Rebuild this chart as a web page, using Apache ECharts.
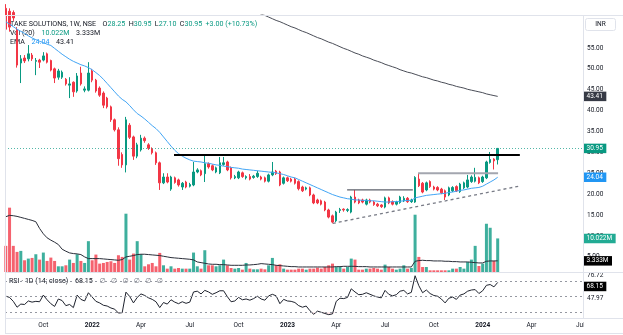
<!DOCTYPE html>
<html>
<head>
<meta charset="utf-8">
<script src="https://cdn.jsdelivr.net/npm/echarts@6/dist/echarts.min.js"></script>
<style>
  html, body { margin: 0; padding: 0; background: #ffffff; }
  #chart { width: 623px; height: 335px; }
</style>
</head>
<body>
<div id="chart"></div>
<script>
// TAKE SOLUTIONS (NSE), weekly bars from the week of 26 Jul 2021 to the week of 29 Jan 2024.
// x values are week numbers counted from the first bar.
const firstWeek = '2021-07-26';

const opens = [
  64.5, 63.8, 63.5, 59.3, 51.4, 52.6, 52.4, 53.3, 51.8, 52.1,
  52.1, 53.6, 52.0, 50.0, 48.0, 48.0, 47.5, 46.1, 46.8, 44.7,
  49.0, 44.9, 44.9, 49.5, 47.3, 45.4, 44.2, 43.0, 40.9, 37.8,
  35.4, 29.5, 27.0, 36.5, 33.7, 29.1, 30.6, 33.4, 31.8, 30.8,
  29.9, 27.5, 22.7, 24.1, 21.2, 23.9, 23.4, 21.7, 22.9, 21.9,
  22.2, 25.3, 25.6, 24.9, 27.3, 26.8, 25.3, 25.1, 27.1, 27.7,
  26.3, 23.9, 23.9, 25.1, 23.9, 24.2, 24.0, 24.2, 24.1, 23.9,
  23.1, 24.6, 25.5, 25.3, 22.6, 23.9, 23.6, 23.6, 23.0, 21.7,
  21.2, 21.5, 19.8, 18.6, 18.4, 18.1, 16.2, 14.8, 13.6, 16.1,
  16.4, 16.1, 15.7, 19.3, 18.6, 18.6, 17.6, 18.6, 18.1, 17.6,
  17.4, 16.9, 19.1, 18.2, 17.6, 18.0, 18.4, 19.0, 18.2, 18.1,
  23.6, 22.6, 21.0, 23.0, 21.7, 21.6, 21.2, 20.8, 19.8, 20.8,
  21.8, 20.6, 21.5, 21.7, 23.0, 23.1, 23.9, 23.0, 23.9, 27.6,
  28.4, 28.25
];
const closes = [
  59.5, 60.0, 62.2, 50.9, 52.4, 51.9, 53.6, 52.4, 52.0, 51.6,
  53.1, 51.6, 49.7, 47.8, 49.5, 49.2, 46.4, 46.4, 44.5, 48.3,
  46.4, 45.2, 49.0, 47.3, 44.7, 43.7, 41.3, 40.9, 37.8, 35.4,
  28.5, 27.0, 37.8, 33.6, 29.1, 31.8, 33.4, 32.8, 31.0, 29.9,
  27.5, 22.7, 24.1, 22.9, 24.1, 22.8, 22.2, 22.6, 21.7, 22.3,
  25.3, 25.8, 24.6, 27.3, 26.5, 25.8, 26.3, 27.5, 27.5, 25.8,
  23.9, 24.2, 25.3, 24.2, 24.2, 23.6, 24.3, 25.0, 23.6, 23.1,
  24.6, 25.3, 24.9, 22.2, 23.9, 23.2, 23.1, 22.6, 21.3, 20.8,
  21.5, 19.8, 17.9, 17.9, 17.6, 16.2, 14.5, 13.3, 15.7, 16.3,
  16.2, 16.3, 19.3, 18.1, 17.9, 18.1, 18.6, 18.1, 17.5, 17.2,
  17.0, 19.1, 17.9, 17.6, 18.1, 19.3, 19.0, 18.2, 18.6, 24.0,
  22.0, 20.5, 22.7, 21.8, 21.2, 21.0, 20.3, 19.3, 21.5, 21.6,
  20.8, 22.4, 22.7, 23.4, 24.1, 24.0, 22.7, 24.1, 27.7, 28.3,
  27.95, 30.95
];
const highs = [
  65.5, 64.5, 64.0, 60.0, 53.3, 53.3, 55.7, 53.8, 52.6, 52.4,
  54.0, 53.9, 52.2, 50.3, 50.0, 49.6, 47.8, 48.0, 47.0, 49.0,
  50.5, 45.8, 51.6, 50.0, 47.6, 45.8, 44.6, 43.3, 41.2, 38.1,
  36.0, 30.0, 38.5, 37.0, 34.0, 32.3, 34.2, 33.8, 32.2, 31.2,
  30.2, 27.8, 25.0, 25.0, 24.4, 24.2, 23.7, 22.9, 23.2, 22.7,
  27.7, 26.2, 25.9, 29.4, 27.6, 27.1, 26.6, 28.9, 28.9, 28.0,
  26.6, 24.6, 25.6, 25.4, 24.5, 24.8, 24.6, 25.6, 24.4, 24.2,
  24.9, 27.7, 25.8, 25.6, 24.2, 24.2, 23.9, 23.9, 23.3, 22.0,
  21.8, 21.8, 20.1, 18.9, 18.7, 18.4, 16.5, 15.1, 16.0, 16.7,
  16.6, 16.6, 19.6, 21.0, 18.9, 18.9, 18.9, 18.9, 18.4, 17.9,
  17.6, 19.4, 19.4, 18.5, 18.4, 19.6, 19.5, 19.3, 18.9, 24.3,
  25.0, 22.9, 23.0, 23.3, 22.0, 21.9, 21.5, 21.1, 21.8, 21.9,
  22.1, 22.7, 23.0, 24.6, 24.5, 26.3, 24.2, 24.4, 28.0, 30.1,
  28.6, 30.95
];
const lows = [
  58.6, 58.9, 61.5, 50.3, 46.6, 51.4, 51.8, 51.9, 48.5, 50.2,
  51.8, 51.3, 49.4, 46.6, 47.4, 47.6, 46.0, 43.0, 43.3, 44.3,
  46.0, 44.4, 44.6, 46.8, 44.3, 43.3, 40.6, 40.5, 37.3, 35.0,
  26.8, 26.3, 25.2, 33.2, 28.2, 28.6, 30.2, 32.3, 30.6, 29.5,
  27.0, 21.0, 22.4, 22.6, 20.8, 22.5, 21.8, 21.0, 21.4, 21.6,
  21.9, 25.0, 24.3, 22.9, 26.1, 25.5, 25.0, 24.8, 26.8, 25.5,
  23.5, 23.6, 23.6, 23.9, 23.5, 23.3, 23.7, 23.9, 23.3, 22.8,
  22.8, 24.3, 24.6, 21.9, 22.3, 22.9, 22.8, 22.3, 20.9, 20.5,
  20.9, 19.5, 17.6, 17.6, 17.3, 15.9, 14.2, 13.0, 13.3, 15.5,
  15.8, 15.7, 15.4, 17.8, 17.6, 17.8, 17.3, 17.8, 17.2, 16.9,
  16.7, 16.6, 17.6, 17.3, 17.3, 17.7, 18.1, 17.9, 17.9, 17.9,
  21.7, 20.2, 20.7, 21.5, 20.9, 20.7, 20.0, 18.6, 19.5, 20.5,
  20.5, 20.3, 21.2, 21.4, 22.7, 22.8, 22.4, 22.7, 23.6, 27.3,
  25.9, 27.10
];
// weekly volume, millions of shares
const volumes = [
  7.8, 19.2, 7.8, 6.0, 6.3, 3.5, 4.0, 4.2, 5.3, 3.7,
  5.8, 3.3, 4.3, 3.3, 1.7, 1.7, 2.0, 3.7, 2.7, 5.3,
  3.3, 2.7, 9.2, 3.5, 5.2, 2.5, 2.7, 3.0, 3.2, 2.7,
  5.0, 4.5, 17.4, 3.7, 5.5, 9.2, 5.3, 1.7, 2.3, 2.7,
  1.7, 5.7, 2.0, 1.0, 1.7, 1.0, 1.2, 1.0, 1.0, 1.0,
  5.8, 1.7, 1.0, 6.5, 2.0, 2.0, 1.7, 2.0, 3.7, 2.0,
  1.2, 1.0, 1.2, 0.7, 2.7, 1.0, 0.8, 0.8, 1.0, 0.8,
  2.0, 4.2, 2.0, 2.3, 1.0, 0.7, 0.7, 0.7, 1.0, 1.0,
  0.7, 1.0, 1.0, 1.3, 1.0, 1.5, 2.0, 2.5, 1.5, 1.5,
  1.0, 1.5, 4.0, 3.7, 0.7, 0.7, 1.0, 1.0, 1.2, 1.0,
  0.7, 2.2, 1.5, 1.0, 0.7, 1.0, 2.0, 1.0, 1.2, 17.1,
  4.5, 1.5, 1.5, 0.5, 0.5, 0.5, 0.5, 0.5, 0.5, 1.0,
  1.0, 1.5, 1.0, 3.0, 3.7, 7.8, 1.8, 2.5, 14.4, 13.2,
  3.3, 10.022
];
// 20-week average of volume, millions
const volumeMa = [
  16.5, 16.9, 16.8, 16.6, 16.3, 16.0, 15.7, 15.4, 15.0, 13.0,
  11.4, 10.2, 9.5, 8.9, 8.2, 6.8, 6.2, 5.7, 5.5, 5.4,
  5.2, 4.5, 4.0, 4.0, 4.0, 4.0, 3.9, 3.8, 3.7, 3.6,
  3.5, 3.7, 4.5, 4.7, 4.9, 5.2, 5.3, 5.3, 5.2, 5.1,
  5.0, 4.9, 4.7, 4.5, 4.3, 4.2, 4.1, 4.0, 3.9, 3.8,
  3.6, 3.0, 2.8, 2.6, 2.4, 2.3, 2.3, 2.2, 2.2, 2.1,
  2.0, 2.0, 2.0, 2.0, 2.1, 2.1, 2.2, 2.3, 2.5, 2.4,
  2.3, 2.2, 2.0, 1.9, 1.8, 1.7, 1.6, 1.6, 1.5, 1.5,
  1.5, 1.5, 1.5, 1.5, 1.5, 1.5, 1.5, 1.5, 1.6, 1.6,
  1.7, 1.7, 1.7, 1.7, 1.6, 1.6, 1.6, 1.5, 1.5, 1.5,
  1.5, 1.5, 1.5, 1.5, 1.5, 1.5, 1.5, 1.5, 1.5, 3.2,
  3.4, 3.5, 3.4, 3.4, 3.3, 3.3, 3.3, 3.2, 3.2, 3.1,
  3.1, 3.0, 3.0, 3.0, 2.9, 2.8, 2.7, 2.7, 3.2, 3.3,
  3.3, 3.333
];
// EMA 20 of close
const emaShort = [
  61.3, 60.7, 60.1, 59.5, 59.0, 58.5, 57.9, 57.4, 57.0, 56.6,
  56.3, 55.9, 55.6, 54.9, 54.2, 53.5, 52.9, 52.3, 51.8, 51.4,
  51.0, 50.7, 50.3, 49.8, 49.1, 48.4, 47.5, 46.5, 45.5, 44.5,
  43.5, 42.7, 42.1, 41.2, 40.2, 39.3, 38.7, 38.0, 37.2, 36.4,
  35.7, 34.8, 33.7, 32.6, 31.5, 30.5, 29.7, 29.1, 28.6, 28.2,
  27.9, 27.8, 27.7, 27.5, 27.4, 27.2, 27.0, 26.9, 26.7, 26.6,
  26.4, 26.3, 26.2, 26.0, 25.9, 25.8, 25.7, 25.6, 25.5, 25.4,
  25.3, 25.2, 25.1, 24.9, 24.7, 24.4, 24.1, 23.9, 23.5, 23.1,
  22.7, 22.3, 21.9, 21.5, 21.1, 20.7, 20.3, 19.9, 19.6, 19.3,
  19.1, 18.9, 18.8, 18.6, 18.6, 18.5, 18.5, 18.4, 18.4, 18.3,
  18.2, 18.1, 18.1, 18.2, 18.2, 18.3, 18.4, 18.5, 18.5, 19.1,
  19.3, 19.5, 19.7, 19.8, 19.9, 20.0, 20.1, 20.2, 20.4, 20.5,
  20.7, 20.9, 21.0, 21.2, 21.4, 21.5, 21.6, 21.9, 22.4, 22.9,
  23.4, 24.04
];
// long EMA, from week 66 on (earlier values sit above the visible range)
const emaLongFrom = 66;
const emaLong = [
  63.9, 63.5, 63.1, 62.8, 62.4, 62.0, 61.6, 61.3, 60.9, 60.5,
  60.1, 59.8, 59.4, 59.0, 58.7, 58.3, 57.9, 57.5, 57.2, 56.8,
  56.4, 56.1, 55.7, 55.3, 54.9, 54.6, 54.2, 53.8, 53.5, 53.1,
  52.8, 52.5, 52.1, 51.8, 51.5, 51.1, 50.8, 50.5, 50.2, 49.8,
  49.5, 49.2, 49.0, 48.7, 48.4, 48.1, 47.9, 47.6, 47.3, 47.1,
  46.8, 46.6, 46.3, 46.1, 45.8, 45.6, 45.4, 45.1, 44.9, 44.7,
  44.5, 44.3, 44.0, 43.8, 43.6, 43.41
];
// RSI 14
const rsi = [
  50.6, 49.0, 44.0, 36.5, 40.5, 40.0, 44.5, 43.0, 44.0, 43.5,
  52.0, 46.0, 41.0, 37.5, 47.0, 45.0, 38.5, 40.0, 36.0, 52.0,
  46.5, 44.5, 55.0, 49.5, 44.0, 42.0, 39.0, 38.0, 35.5, 34.0,
  29.0, 29.5, 55.8, 50.2, 42.0, 49.0, 53.5, 51.5, 48.5, 46.5,
  43.5, 36.0, 42.5, 40.5, 46.0, 43.0, 41.0, 43.5, 41.5, 43.0,
  56.0, 57.0, 53.5, 58.0, 56.0, 53.0, 55.0, 57.5, 57.5, 50.0,
  43.5, 44.5, 49.0, 46.0, 47.0, 45.5, 47.5, 50.5, 47.0, 45.5,
  51.0, 53.0, 51.0, 41.0, 46.5, 44.5, 44.0, 42.5, 38.5, 36.5,
  38.0, 32.0, 27.5, 31.5, 30.0, 28.5, 27.0, 28.0, 44.0, 48.0,
  47.5, 49.0, 60.0, 56.0, 52.5, 53.0, 55.0, 53.0, 51.0, 49.5,
  48.5, 58.0, 53.0, 51.0, 52.5, 57.0, 58.0, 53.5, 55.5, 76.72,
  64.0, 55.0, 58.5, 54.0, 51.5, 50.5, 47.0, 42.0, 48.0, 49.5,
  46.5, 52.0, 53.5, 57.0, 58.5, 59.0, 54.0, 57.5, 64.5, 65.5,
  62.5, 68.15
];

// drawn levels: [week, price] end points
const resistanceLine = [[44.8, 29.4], [136.9, 29.4]];
const rangeTopLine = [[90.9, 21.0], [108.4, 21.0]];
const baseTopLine = [[109.8, 25.0], [131.1, 25.0]];
const risingSupport = [[87.1, 13.0], [136.9, 21.95]];

// time axis: first bar of each quarter
const tickWeeks = [10, 23, 36, 49, 62, 75, 88, 101, 114, 127, 140, 153];
const tickLabels = ['Oct', '2022', 'Apr', 'Jul', 'Oct', '2023', 'Apr', 'Jul', 'Oct', '2024', 'Apr', 'Jul'];
const priceTicks = [5, 10, 15, 20, 25, 30, 35, 40, 45, 50, 55];
const rsiTicks = [76.72, 47.97];
const rsiLevels = [70, 50, 30];

const lastClose = closes[closes.length - 1];
const lastEmaShort = emaShort[emaShort.length - 1];
const lastEmaLong = emaLong[emaLong.length - 1];
const lastVolume = volumes[volumes.length - 1];
const lastVolumeMa = volumeMa[volumeMa.length - 1];
const lastRsi = rsi[rsi.length - 1];

// ---- layout / style ----
const FONT = 'Roboto, "Noto Sans", "DejaVu Sans", sans-serif';
const FS = 6.5;
const LEGEND_FS = 7.1;
const TEXT = '#131722';
const UP = '#089981';
const DOWN = '#f23645';
const VOL_UP = 'rgba(8,153,129,0.78)';
const VOL_DOWN = 'rgba(242,54,69,0.78)';
const FRAME = '#e0e3eb';
const HIDDEN = 'rgba(0,0,0,0)';

const PLOT_LEFT = 5, PLOT_RIGHT = 583;
const PANE_TOP = 15, PANE_SPLIT = 272, RSI_BOTTOM = 318, FRAME_BOTTOM = 333;
const PX_PER_WEEK = 3.755;
const X_MIN = -0.21;
const X_MAX = X_MIN + (PLOT_RIGHT - PLOT_LEFT) / PX_PER_WEEK;
const PRICE_MIN = 1.35, PRICE_MAX = 62.9;
const VOL_MAX = 76.7;
const RSI_MIN = 22.72, RSI_MAX = 80.22;

// value tag on the price scale at the end of a horizontal level
function badge(value, text, bg, dy, line) {
  return {
    yAxis: value,
    lineStyle: line || { color: HIDDEN, width: 1 },
    label: {
      show: true, position: 'end', distance: 0, formatter: text,
      color: '#ffffff', backgroundColor: bg, padding: [1.5, 3.5, 1, 3.5],
      fontSize: FS, fontFamily: FONT, lineHeight: 7, offset: [0, dy || 0]
    }
  };
}

const candleData = opens.map((o, k) => [k, o, closes[k], lows[k], highs[k]]);
const isUp = k => closes[k] >= opens[k];

const chart = echarts.init(document.getElementById('chart'), null, { renderer: 'canvas' });

const plainAxis = { axisLine: { show: false }, axisTick: { show: false }, splitLine: { show: false } };

const rich = {
  n: { fill: TEXT, fontSize: LEGEND_FS, fontFamily: FONT },
  u: { fill: UP, fontSize: LEGEND_FS, fontFamily: FONT },
  b: { fill: '#2196f3', fontSize: LEGEND_FS, fontFamily: FONT },
  m: { fill: '#787b86', fontSize: LEGEND_FS, fontFamily: FONT }
};

chart.setOption({
  animation: false,
  backgroundColor: '#ffffff',
  grid: [
    { left: PLOT_LEFT, right: 623 - PLOT_RIGHT, top: PANE_TOP, height: PANE_SPLIT - PANE_TOP },
    { left: PLOT_LEFT, right: 623 - PLOT_RIGHT, top: PANE_SPLIT + 1, height: RSI_BOTTOM - PANE_SPLIT - 1 }
  ],
  xAxis: [
    { gridIndex: 0, type: 'value', min: X_MIN, max: X_MAX, show: false },
    Object.assign({
      gridIndex: 1, type: 'value', min: X_MIN, max: X_MAX,
      axisLabel: {
        customValues: tickWeeks, margin: 4, fontSize: FS, fontFamily: FONT, color: TEXT,
        formatter: v => {
          const t = tickLabels[tickWeeks.indexOf(v)] || '';
          return /^\d{4}$/.test(t) ? '{y|' + t + '}' : t;
        },
        rich: { y: { fontWeight: 'bold', fontSize: FS, fontFamily: FONT, color: TEXT } }
      }
    }, plainAxis)
  ],
  yAxis: [
    Object.assign({
      gridIndex: 0, type: 'value', position: 'right', min: PRICE_MIN, max: PRICE_MAX,
      axisLabel: { customValues: priceTicks, formatter: v => v.toFixed(2), margin: 4, fontSize: FS, fontFamily: FONT, color: TEXT }
    }, plainAxis),
    { gridIndex: 0, type: 'value', min: 0, max: VOL_MAX, show: false },
    Object.assign({
      gridIndex: 1, type: 'value', position: 'right', min: RSI_MIN, max: RSI_MAX,
      axisLabel: { customValues: rsiTicks, formatter: v => v.toFixed(2), margin: 4, fontSize: FS, fontFamily: FONT, color: TEXT }
    }, plainAxis)
  ],
  series: [
    {
      name: 'Volume', type: 'bar', xAxisIndex: 0, yAxisIndex: 1, z: 1, barWidth: 3,
      data: volumes.map((v, k) => [k, v]),
      itemStyle: { color: p => (isUp(p.dataIndex) ? VOL_UP : VOL_DOWN) },
      markLine: { symbol: ['none', 'none'], silent: true, z: 10, data: [badge(lastVolume, lastVolume.toFixed(3) + 'M', '#22ab94')] }
    },
    {
      name: 'Volume MA', type: 'line', xAxisIndex: 0, yAxisIndex: 1, z: 2, symbol: 'none',
      data: volumeMa.map((v, k) => [k, v]),
      lineStyle: { color: '#2a2e39', width: 1 },
      markLine: { symbol: ['none', 'none'], silent: true, z: 10, data: [badge(lastVolumeMa, lastVolumeMa.toFixed(3) + 'M', '#000000')] }
    },
    {
      name: 'Price', type: 'candlestick', xAxisIndex: 0, yAxisIndex: 0, z: 3, barWidth: 2,
      encode: { x: 0, y: [1, 2, 3, 4] },
      data: candleData,
      itemStyle: { color: UP, color0: DOWN, borderColor: UP, borderColor0: DOWN, borderWidth: 1 },
      markLine: {
        symbol: ['none', 'none'], silent: true, z: 10,
        data: [badge(lastClose, lastClose.toFixed(2), UP, 0, { type: [1, 2], color: 'rgba(8,153,129,0.7)', width: 1 })]
      }
    },
    {
      name: 'EMA 20', type: 'line', xAxisIndex: 0, yAxisIndex: 0, z: 4, symbol: 'none',
      data: emaShort.map((v, k) => [k, v]),
      lineStyle: { color: '#42a5f5', width: 1 },
      markLine: { symbol: ['none', 'none'], silent: true, z: 10, data: [badge(lastEmaShort, lastEmaShort.toFixed(2), '#2196f3')] }
    },
    {
      name: 'EMA long', type: 'line', xAxisIndex: 0, yAxisIndex: 0, z: 4, symbol: 'none',
      data: emaLong.map((v, i) => [emaLongFrom + i, v]),
      lineStyle: { color: '#4a4d57', width: 1 },
      markLine: { symbol: ['none', 'none'], silent: true, z: 10, data: [badge(lastEmaLong, lastEmaLong.toFixed(2), '#363a45')] }
    },
    {
      name: 'Resistance', type: 'line', xAxisIndex: 0, yAxisIndex: 0, z: 5, symbol: 'none',
      data: resistanceLine, lineStyle: { color: '#000000', width: 2 }
    },
    {
      name: 'Range top', type: 'line', xAxisIndex: 0, yAxisIndex: 0, z: 5, symbol: 'none',
      data: rangeTopLine, lineStyle: { color: '#5d606b', width: 1.3 }
    },
    {
      name: 'Base top', type: 'line', xAxisIndex: 0, yAxisIndex: 0, z: 5, symbol: 'none',
      data: baseTopLine, lineStyle: { color: '#a3a6af', width: 2 }
    },
    {
      name: 'Rising support', type: 'line', xAxisIndex: 0, yAxisIndex: 0, z: 5, symbol: 'none',
      data: risingSupport, lineStyle: { color: '#787b86', width: 1.3, type: [3, 3] }
    },
    {
      name: 'RSI oversold', type: 'line', xAxisIndex: 1, yAxisIndex: 2, z: 2, symbol: 'none',
      data: rsi.map((v, k) => [k, Math.min(v, 30)]),
      lineStyle: { color: HIDDEN, width: 0 },
      areaStyle: { origin: 30, color: 'rgba(242,54,69,0.18)' }
    },
    {
      name: 'RSI', type: 'line', xAxisIndex: 1, yAxisIndex: 2, z: 3, symbol: 'none',
      data: rsi.map((v, k) => [k, v]),
      lineStyle: { color: '#1e222d', width: 1 },
      markLine: {
        symbol: ['none', 'none'], silent: true, z: 10,
        data: rsiLevels.map(l => ({ yAxis: l, lineStyle: { type: [2, 3], color: '#9598a1', width: 1 }, label: { show: false } }))
          .concat([badge(lastRsi, lastRsi.toFixed(2), '#000000', 4)])
      }
    }
  ],
  graphic: [
    // pane frame
    { type: 'line', z: 50, silent: true, shape: { x1: PLOT_LEFT, y1: PANE_TOP + 0.5, x2: 623, y2: PANE_TOP + 0.5 }, style: { stroke: FRAME, lineWidth: 1 } },
    { type: 'line', z: 50, silent: true, shape: { x1: PLOT_LEFT + 0.5, y1: PANE_TOP, x2: PLOT_LEFT + 0.5, y2: FRAME_BOTTOM }, style: { stroke: FRAME, lineWidth: 1 } },
    { type: 'line', z: 50, silent: true, shape: { x1: PLOT_LEFT, y1: PANE_SPLIT + 0.5, x2: 623, y2: PANE_SPLIT + 0.5 }, style: { stroke: FRAME, lineWidth: 1 } },
    { type: 'line', z: 50, silent: true, shape: { x1: PLOT_LEFT, y1: RSI_BOTTOM + 0.5, x2: 623, y2: RSI_BOTTOM + 0.5 }, style: { stroke: FRAME, lineWidth: 1 } },
    { type: 'line', z: 50, silent: true, shape: { x1: PLOT_LEFT, y1: FRAME_BOTTOM + 0.5, x2: 623, y2: FRAME_BOTTOM + 0.5 }, style: { stroke: FRAME, lineWidth: 1 } },
    // the time scale ends where the price scale begins
    { type: 'rect', z: 60, silent: true, shape: { x: PLOT_RIGHT + 0.5, y: RSI_BOTTOM + 1, width: 623 - PLOT_RIGHT, height: FRAME_BOTTOM - RSI_BOTTOM - 1 }, style: { fill: '#ffffff' } },
    { type: 'line', z: 61, silent: true, shape: { x1: PLOT_RIGHT + 0.5, y1: PANE_TOP, x2: PLOT_RIGHT + 0.5, y2: RSI_BOTTOM + 1 }, style: { stroke: FRAME, lineWidth: 1 } },
    // currency box
    { type: 'rect', z: 60, silent: true, shape: { x: 585.5, y: 18.5, width: 30, height: 12, r: 2 }, style: { fill: '#ffffff', stroke: FRAME, lineWidth: 1 } },
    { type: 'text', z: 61, silent: true, x: 600.5, y: 24.7, style: { text: 'INR', fill: TEXT, fontSize: FS, fontFamily: FONT, align: 'center', verticalAlign: 'middle' } },
    // legends
    { type: 'text', z: 0, silent: true, x: 10, y: 24.3, style: {
      text: '{n|TAKE SOLUTIONS, 1W, NSE}  {n|O}{u|28.25} {n|H}{u|30.95} {n|L}{u|27.10} {n|C}{u|30.95} {u|+3.00 (+10.73%)}',
      rich: rich, verticalAlign: 'middle' } },
    { type: 'text', z: 0, silent: true, x: 10, y: 33.3, style: {
      text: '{n|Vol (20)}  {u|' + lastVolume.toFixed(3) + 'M}  {n|' + lastVolumeMa.toFixed(3) + 'M}',
      rich: rich, verticalAlign: 'middle' } },
    { type: 'text', z: 0, silent: true, x: 10, y: 42.7, style: {
      text: '{n|EMA}  {b|' + lastEmaShort.toFixed(2) + '}  {n|' + lastEmaLong.toFixed(2) + '}',
      rich: rich, verticalAlign: 'middle' } },
    { type: 'text', z: 0, silent: true, x: 9, y: 281, style: {
      text: '{n|RSI · 1D (14; close)}  {n|' + lastRsi.toFixed(2) + '}  {m|∅   ∅   ∅   ∅   ∅   ∅}',
      rich: rich, verticalAlign: 'middle' } }
  ]
});
</script>
</body>
</html>
